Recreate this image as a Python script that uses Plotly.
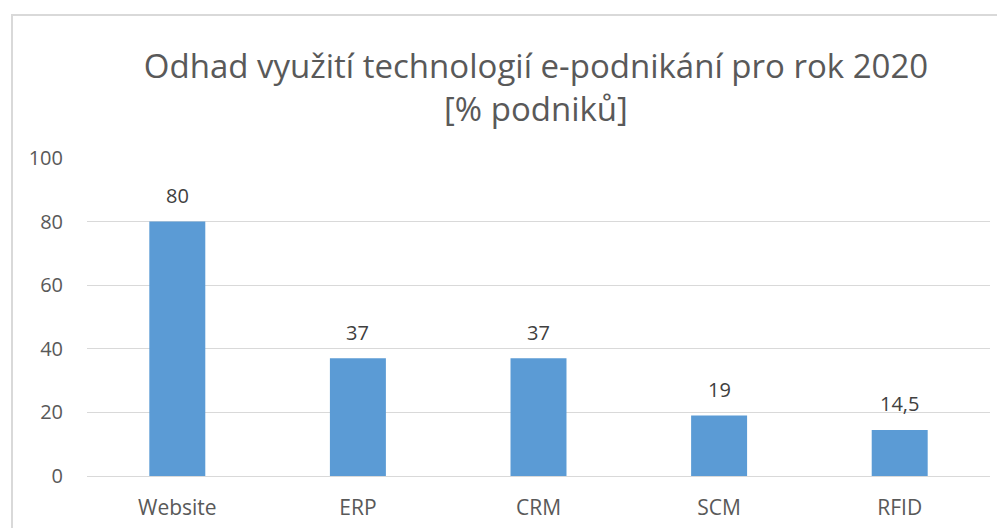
import plotly.graph_objects as go

categories = ["Website", "ERP", "CRM", "SCM", "RFID"]
values = [80, 37, 37, 19, 14.5]
labels = ["80", "37", "37", "19", "14,5"]
yticks = [0, 20, 40, 60, 80, 100]

FONT = "Open Sans"
OFF = 8  # page body margin
W, H = 1005, 528
# plot area in screen pixels
SL, SR, ST, SB = 87, 990, 158, 476
L, T = SL - OFF, ST - OFF
R = W - (SR - OFF)
B = H - (SB - OFF)
pw = SR - SL
ph = SB - ST


def px_x(p):
    return (p - SL) / pw


def px_y(p):
    return (SB - p) / ph


fig = go.Figure(go.Bar(
    x=categories, y=values,
    marker=dict(color="#5B9BD5", line=dict(width=0)),
    hoverinfo="skip",
))

annotations = [
    dict(x=c, y=v, text=t, xref="x", yref="y", showarrow=False,
         yanchor="middle", yshift=26,
         font=dict(size=20, color="#404040", family=FONT))
    for c, v, t in zip(categories, values, labels)
]

fig.update_layout(
    width=W, height=H,
    margin=dict(l=L, r=R, t=T, b=B),
    paper_bgcolor="white", plot_bgcolor="white",
    bargap=0.69,
    showlegend=False,
    annotations=annotations,
    title=dict(
        text="Odhad využití technologií e-podnikání pro rok 2020<br>[% podniků]",
        x=(536 - OFF) / W, xanchor="center", y=1 - 70 / H, yanchor="top",
        font=dict(size=33, color="#595959", family=FONT),
    ),
    xaxis=dict(showgrid=False, showline=False, ticks="",
               tickfont=dict(size=21, color="#595959", family=FONT),
               ticklabelstandoff=17),
    yaxis=dict(range=[0, 100], tickvals=yticks, showgrid=True,
               gridcolor="#D9D9D9", gridwidth=1, zeroline=True,
               zerolinecolor="#D9D9D9", zerolinewidth=1, showline=False,
               ticks="", tickfont=dict(size=20, color="#595959", family=FONT),
               ticklabelstandoff=23),
    shapes=[dict(type="rect", xref="paper", yref="paper",
                 x0=px_x(12), x1=px_x(1030), y0=px_y(560), y1=px_y(15),
                 line=dict(color="#D9D9D9", width=2), fillcolor="rgba(0,0,0,0)",
                 layer="below")],
)

fig.write_html("out.html")
